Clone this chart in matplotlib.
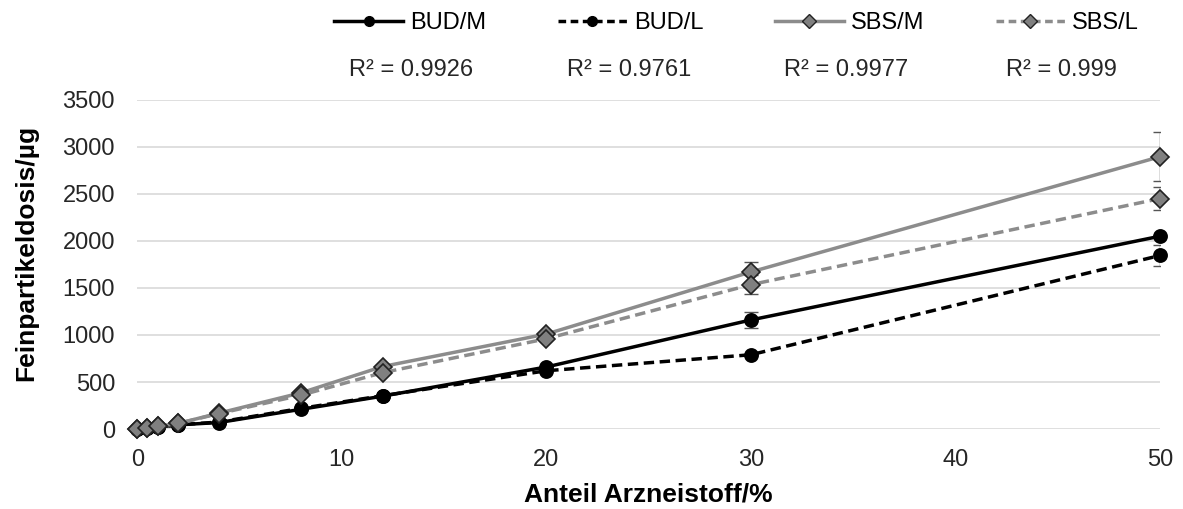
import matplotlib.pyplot as plt
from matplotlib.lines import Line2D

plt.rcParams['font.family'] = ['Liberation Sans', 'DejaVu Sans']

anteil = [0, 0.5, 1, 2, 4, 8, 12, 20, 30, 50]
bud_m = [0, 10, 20, 45, 70, 210, 350, 660, 1160, 2050]
bud_l = [0, 10, 20, 45, 75, 220, 355, 620, 790, 1845]
sbs_m = [0, 15, 30, 60, 170, 385, 665, 1010, 1670, 2895]
sbs_l = [0, 15, 30, 60, 165, 360, 600, 960, 1535, 2450]
bud_m_err = [0, 0, 0, 0, 0, 0, 0, 0, 85, 0]
bud_l_err = [0, 0, 0, 0, 0, 0, 0, 0, 0, 110]
sbs_m_err = [0, 0, 0, 0, 0, 0, 0, 0, 110, 260]
sbs_l_err = [0, 0, 0, 0, 0, 0, 0, 0, 100, 120]
labels = ['BUD/M', 'BUD/L', 'SBS/M', 'SBS/L']
r2 = ['0.9926', '0.9761', '0.9977', '0.999']

fig = plt.figure(figsize=(11.83, 5.09), dpi=100)
ax = fig.add_axes([0.116, 0.157, 0.8646, 0.647])

grey = '#8c8c8c'
series = [
    (bud_m, bud_m_err, 'black', '-', 'o', 'black', 'black', 9.5),
    (bud_l, bud_l_err, 'black', '--', 'o', 'black', 'black', 9.5),
    (sbs_m, sbs_m_err, grey, '-', 'D', '#808080', '#222222', 9),
    (sbs_l, sbs_l_err, grey, '--', 'D', '#808080', '#222222', 9),
]
handles = []
for (vals, err, col, ls, mk, fc, ec, ms), lab in zip(series, labels):
    ax.errorbar(anteil, vals, yerr=err, fmt='none', ecolor='#555555',
                elinewidth=1, capsize=5, capthick=1, zorder=2)
    ax.plot(anteil, vals, color=col, linestyle=ls, linewidth=2.5,
            marker=mk, markerfacecolor=fc, markeredgecolor=ec,
            markeredgewidth=1.2, markersize=ms, clip_on=False, zorder=3,
            dashes=(3, 1.6) if ls == '--' else (None, None))
    handles.append(Line2D([], [], color=col, linestyle=ls, linewidth=2.5,
                          marker=mk, markerfacecolor=fc, markeredgecolor=ec,
                          markersize=7, label=lab,
                          dashes=(2.2, 1.3) if ls == '--' else (None, None)))

ax.set_xlim(0, 50)
ax.set_ylim(0, 3500)
ax.set_yticks(range(0, 3501, 500))
ax.set_xticks(range(0, 51, 10))
ax.yaxis.grid(True, color='#d9d9d9', linewidth=1.2)
ax.set_axisbelow(True)
for s in ax.spines.values():
    s.set_visible(False)
ax.tick_params(length=0, labelsize=17, colors='#262626')
ax.tick_params(axis='y', pad=16)
ax.tick_params(axis='x', pad=14)
ax.set_xlabel('Anteil Arzneistoff/%', fontsize=19, fontweight='bold')
ax.set_ylabel('Feinpartikeldosis/µg', fontsize=19, fontweight='bold')
ax.xaxis.set_label_coords(0.5, -0.163)
ax.yaxis.set_label_coords(-0.097, 0.535)

fig.legend(handles=handles, loc='center', bbox_to_anchor=(0.6226, 0.955),
           ncol=4, frameon=False, fontsize=17, handlelength=2.95,
           columnspacing=3.0, handletextpad=0.3, borderpad=0, borderaxespad=0)

r2_x = [411, 629, 846, 1061]
for xx, r in zip(r2_x, r2):
    fig.text(xx / 1183, 0.8625, 'R² = ' + r, ha='center', va='center',
             fontsize=17, color='#262626')

fig.savefig('out.png', dpi=100)
